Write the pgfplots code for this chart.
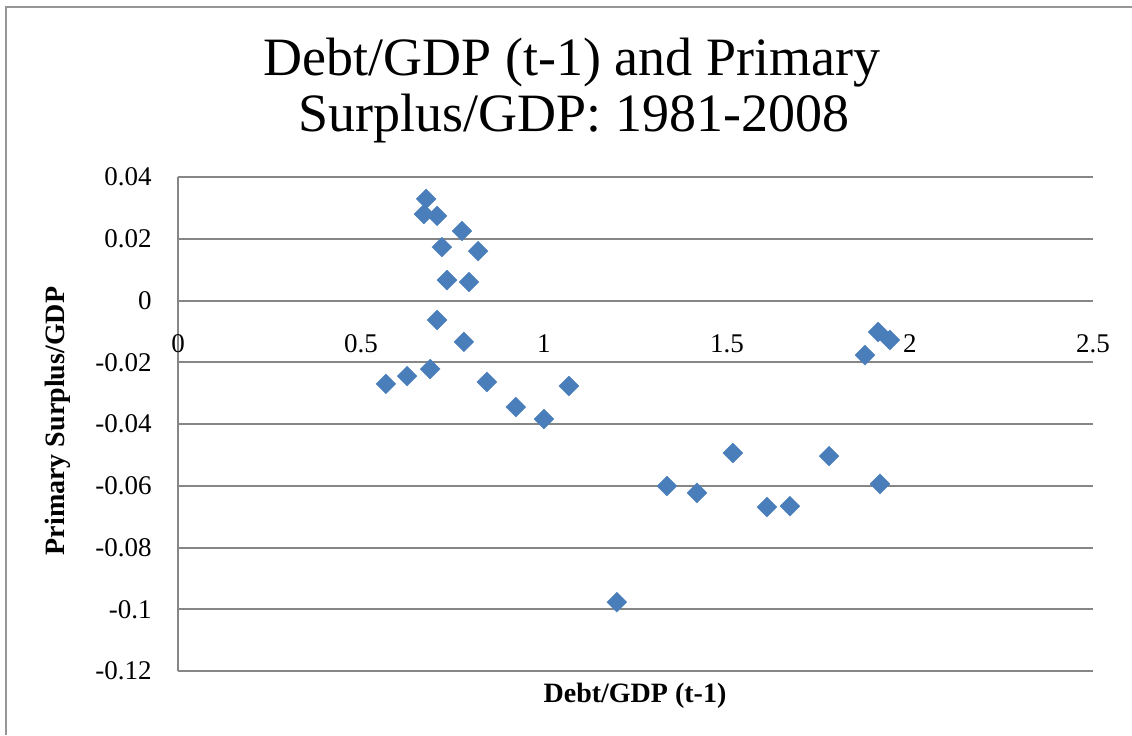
\documentclass[border=0pt]{standalone}
\usepackage{pgfplots}
\pgfplotsset{compat=1.18}
\usepackage{fontspec}
\setmainfont{Liberation Serif}
\definecolor{gridgray}{RGB}{134,134,134}
\definecolor{markblue}{RGB}{74,126,187}
\definecolor{framegray}{RGB}{150,150,150}
\begin{document}
\begin{tikzpicture}
\useasboundingbox (0,0) rectangle (566pt,-367.5pt);
\draw[framegray, line width=1pt] (3pt,-367.5pt) -- (3pt,-3.5pt) -- (566pt,-3.5pt);
\begin{axis}[
  at={(89pt,-335.5pt)}, anchor=south west,
  scale only axis, width=457.5pt, height=247pt,
  xmin=0, xmax=2.5, ymin=-0.12, ymax=0.04,
  axis x line=middle, axis y line=left,
  axis line style={gridgray, line width=1pt, -},
  hide obscured x ticks=false, hide obscured y ticks=false,
  xtick={0,0.5,1,1.5,2,2.5}, xticklabels={0,0.5,1,1.5,2,2.5},
  ytick={-0.12,-0.1,-0.08,-0.06,-0.04,-0.02,0,0.02,0.04},
  yticklabels={-0.12,-0.1,-0.08,-0.06,-0.04,-0.02,0,0.02,0.04},
  ymajorgrids, major grid style={gridgray, line width=1pt},
  major tick length=0pt,
  tick label style={font=\fontsize{13.5}{15}\selectfont},
  yticklabel style={anchor=east, inner sep=0pt, xshift=-13pt},
  xticklabel style={anchor=north, inner sep=0pt, yshift=-16.75pt},
  clip=false,
]
\addplot[only marks, mark=square*, mark size=3.5pt,
  mark options={rotate=45, fill=markblue, draw=markblue, line width=0.2pt}]
coordinates {
(0.678,0.0329) (0.672,0.0280) (0.708,0.0274) (0.776,0.0225)
(0.721,0.0173) (0.820,0.0160) (0.735,0.0066) (0.795,0.0060)
(0.708,-0.0063) (0.781,-0.0134) (0.689,-0.0222) (0.626,-0.0245)
(0.568,-0.0270) (0.844,-0.0264) (1.068,-0.0277) (0.923,-0.0345)
(1.000,-0.0384) (1.199,-0.0977) (1.336,-0.0601) (1.418,-0.0623)
(1.516,-0.0494) (1.609,-0.0669) (1.672,-0.0666) (1.779,-0.0504)
(1.877,-0.0177) (1.913,-0.0102) (1.945,-0.0128) (1.918,-0.0594)
};
\end{axis}
\node[font=\fontsize{27}{29}\selectfont, anchor=base] at (286pt,-37.5pt) {Debt/GDP (t-1) and Primary};
\node[font=\fontsize{27}{29}\selectfont, anchor=base] at (287pt,-65.5pt) {Surplus/GDP: 1981-2008};
\node[font=\bfseries\fontsize{14}{16}\selectfont, anchor=base] at (317.5pt,-351pt) {Debt/GDP (t-1)};
\node[font=\bfseries\fontsize{14}{16}\selectfont, anchor=base, rotate=90] at (32pt,-210.5pt) {Primary Surplus/GDP};
\end{tikzpicture}
\end{document}
